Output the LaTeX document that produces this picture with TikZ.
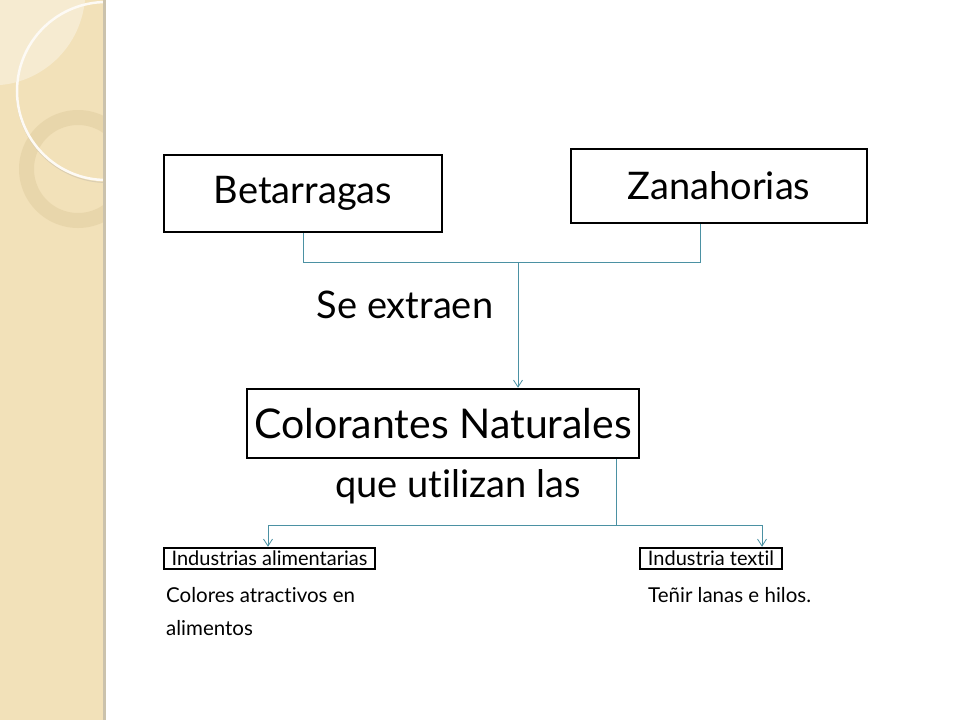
\documentclass[tikz,border=0pt]{standalone}
\usepackage{fontspec}
\setmainfont{Lato}[Ligatures=NoCommon]
\usetikzlibrary{arrows.meta}

\definecolor{stripbeige}{HTML}{F2E1B9}
\definecolor{stripedge}{HTML}{CBC2AC}
\definecolor{ringbeige}{HTML}{E0CC9E}
\definecolor{linkteal}{HTML}{4B91A3}

\tikzset{
  bigbox/.style={draw=black, line width=2.5pt, inner sep=0pt, font=\fontsize{38}{44}\selectfont},
  smallbox/.style={draw=black, line width=2.5pt, inner sep=0pt, font=\fontsize{20}{24}\selectfont},
  bigtext/.style={inner sep=0pt, font=\fontsize{38}{44}\selectfont},
  smalltext/.style={inner sep=0pt, anchor=west, font=\fontsize{20.5}{24}\selectfont},
  link/.style={draw=linkteal, line width=0.9pt},
  linkarrow/.style={link, -{Straight Barb[length=7pt,width=9pt,line width=0.8pt]}},
}

\begin{document}
\begin{tikzpicture}[x=1pt, y=-1pt]
        \useasboundingbox (0,0) rectangle (960,720);
        \fill[white] (0,0) rectangle (960,720);

        % left strip
        \begin{scope}
            \clip (0,0) rectangle (104,720);
            \fill[stripbeige] (0,0) rectangle (104,720);
            \fill[white, opacity=0.35] (0,0) -- (85,0) .. controls (80,50) and (40,82) .. (0,85) -- cycle;
            \fill[ringbeige, opacity=0.5, even odd rule] (78,169) circle (59) (78,169) circle (44);
            \draw[stripedge!60!stripbeige, line width=1pt] (107,92) circle (90.5);
            \draw[white!85!stripbeige, line width=2.5pt] (106,91) circle (89);
        \end{scope}
        \fill[stripedge] (103,0) rectangle (106,720);

        % boxes
        \node[bigbox, minimum width=278, minimum height=77] (bet) at (303,193.5) {Betarragas};
        \node[bigbox, minimum width=296, minimum height=74] (zan) at (719,186) {Zanahorias};
        \node[bigbox, minimum width=392, minimum height=69, font=\fontsize{41}{48}\selectfont] (col) at (443,423.5) {Colorantes Naturales};
        \node[smallbox, minimum width=211, minimum height=21] (ind) at (269.5,558.5) {Industrias alimentarias};
        \node[smallbox, minimum width=142, minimum height=21] (tex) at (711,558.5) {Industria textil};

        % texts
        \node[bigtext] (extraen) at (405,305) {Se extraen};
        \node[bigtext] (utilizan) at (458,487) {que utilizan las};
        \node[smalltext] (colores) at (166,595) {Colores atractivos en};
        \node[smalltext] (alimentos) at (166,628) {alimentos};
        \node[smalltext] (tenir) at (648,595) {Teñir lanas e hilos.};

        % connectors
        \coordinate (zanout) at ([xshift=-19pt]zan.south);
        \coordinate (top) at (518,262);
        \draw[link] (bet.south) -- (bet.south |- top) -- (zanout |- top) -- (zanout);
        \draw[linkarrow] (top) -- (top |- col.north);
        \coordinate (colout) at ([xshift=173pt]col.south);
        \coordinate (low) at (616,525);
        \draw[link] (colout) -- (low);
        \draw[linkarrow] (low) -- (268,525) -- (268,525 |- ind.north);
        \draw[linkarrow] (low) -- (762,525) -- (762,525 |- tex.north);
    \end{tikzpicture}
\end{document}
